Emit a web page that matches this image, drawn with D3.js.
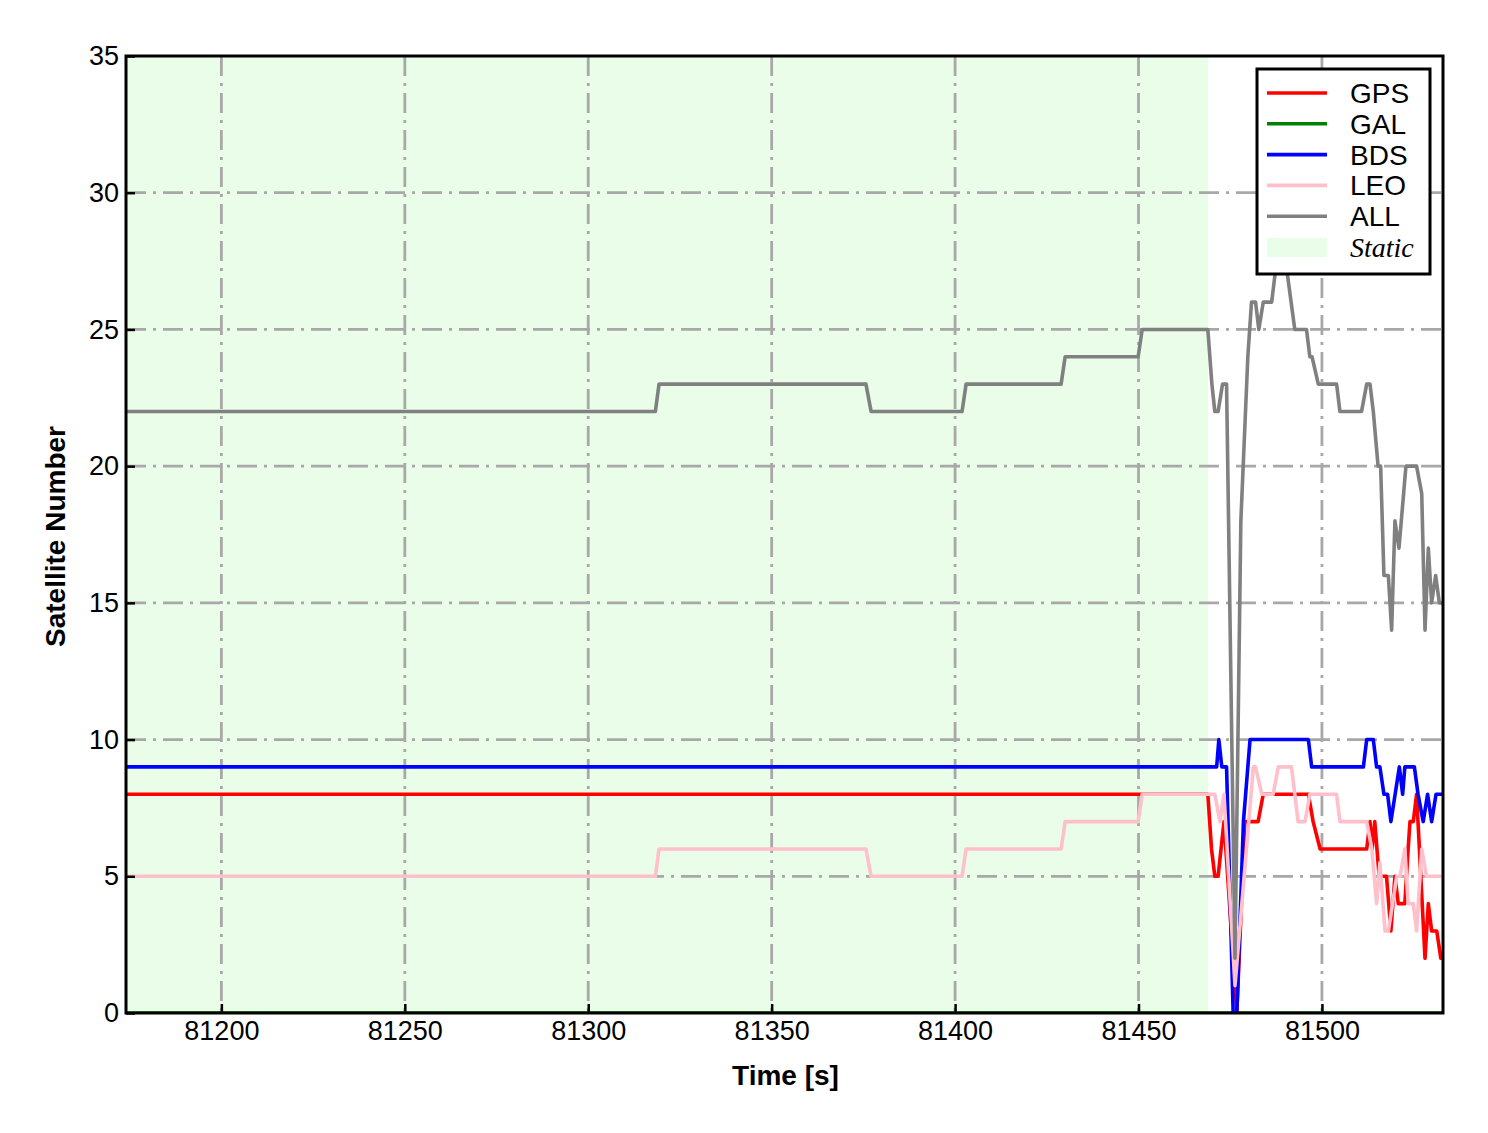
<!DOCTYPE html>
<html><head><meta charset="utf-8">
<script src="https://cdn.jsdelivr.net/npm/d3@7"></script>
<style>
html,body{margin:0;padding:0;background:#fff;}
svg text{font-family:Arial,"Liberation Sans",sans-serif;}
</style></head>
<body>
<svg id="chart" width="1488" height="1133"></svg>
<script>
// ---- data ----
const seriesNames = ["GPS","GAL","BDS","LEO","ALL"];
const seriesColors = ["#ff0000","#008000","#0000ff","#ffc0cb","#808080"];
const xTicks = [81200,81250,81300,81350,81400,81450,81500];
const yTicks = [0,5,10,15,20,25,30,35];
const xDomain = [81174, 81533];
const yDomain = [0, 35];
const staticRange = [81174, 81469];

const gpsT = [81174,81468.9,81469.9,81470.8,81471.7,81473.3,81476.8,81479.0,81482.6,81484.0,81496.3,81497.6,81499.5,81512.2,81513.1,81513.7,81514.4,81515.6,81517.6,81518.8,81519.9,81520.8,81522.6,81523.5,81524.0,81524.9,81525.8,81528.1,81529.0,81529.9,81531.3,81532.4,81533];
const gpsV = [8,8,6,5,5,7,0,7,7,8,8,7,6,6,7,6,7,5,5,3,5,4,4,6,7,7,8,2,4,3,3,2,2];

const galT = [81174,81533];
const galV = [0,0];

const bdsT = [81174,81471.3,81471.9,81472.7,81474.0,81475.8,81476.8,81478.6,81480.4,81496.3,81497.2,81511.3,81512.2,81514.0,81514.9,81515.8,81516.9,81517.9,81518.8,81521.1,81522.0,81522.6,81525.2,81526.2,81527.6,81528.8,81529.9,81531.1,81533];
const bdsV = [9,9,10,9,9,0,0,7,10,10,9,9,10,10,9,9,8,8,7,9,8,9,9,8,7,8,7,8,8];

const leoT = [81174,81318.3,81319.3,81375.7,81377.1,81401.9,81403.0,81428.9,81430.0,81449.9,81451.0,81470.8,81472.2,81473.3,81476.3,81481.3,81481.9,81483.6,81486.7,81488.1,81491.7,81493.5,81495.4,81496.7,81504.0,81504.9,81512.2,81513.6,81514.9,81515.8,81517.2,81518.1,81520.4,81521.3,81522.6,81523.5,81524.9,81525.8,81527.2,81528.5,81533];
const leoV = [5,5,6,6,5,5,6,6,7,7,8,8,7,8,1,9,9,8,8,9,9,7,7,8,8,7,7,6,4,5.5,3,3,5,5,6,4,4,3,6,5,5];

const allT = [81174,81318.3,81319.3,81375.7,81377.1,81401.9,81403.0,81428.9,81430.0,81449.9,81451.0,81468.9,81470.0,81470.8,81471.7,81472.9,81474.0,81476.3,81477.9,81479.8,81480.8,81481.9,81482.8,81484.0,81486.3,81488.1,81489.6,81492.6,81495.8,81496.7,81497.3,81499.0,81504.0,81504.9,81510.8,81512.2,81513.1,81514.0,81515.3,81516.0,81516.9,81518.1,81519.0,81519.9,81521.0,81522.9,81525.8,81527.2,81528.1,81529.0,81529.9,81531.0,81532.0,81533];
const allV = [22,22,23,23,22,22,23,23,24,24,25,25,23,22,22,23,23,2,18,24,26,26,25,26,26,28,28,25,25,24,24,23,23,22,22,23,23,22,20,20,16,16,14,18,17,20,20,19,14,17,15,16,15,15];

const seriesT = [gpsT, galT, bdsT, leoT, allT];
const seriesV = [gpsV, galV, bdsV, leoV, allV];

// ---- layout ----
const L = 126, R = 1443, T = 56, B = 1013;
const svg = d3.select("#chart");
const x = d3.scaleLinear().domain(xDomain).range([L, R]);
const y = d3.scaleLinear().domain(yDomain).range([B, T]);

svg.append("defs").append("clipPath").attr("id","clip")
  .append("rect").attr("x",L).attr("y",T).attr("width",R-L).attr("height",B-T);

// static background
svg.append("rect")
  .attr("x", x(staticRange[0])).attr("y", T)
  .attr("width", x(staticRange[1]) - x(staticRange[0])).attr("height", B - T)
  .attr("fill", "#e9fde9");

// grid
const gridDash = "20,7,3,7";
const g = svg.append("g");
g.selectAll(".gx").data(xTicks).enter().append("line")
  .attr("x1", d=>x(d)).attr("x2", d=>x(d)).attr("y1", T).attr("y2", B)
  .attr("stroke","#a8a8a8").attr("stroke-width",2.8).attr("stroke-dasharray",gridDash);
g.selectAll(".gy").data(yTicks.filter(v=>v>0 && v<35)).enter().append("line")
  .attr("y1", d=>y(d)).attr("y2", d=>y(d)).attr("x1", L).attr("x2", R)
  .attr("stroke","#a8a8a8").attr("stroke-width",2.8).attr("stroke-dasharray",gridDash);

// lines
const line = d3.line().x(d=>x(d[0])).y(d=>y(d[1]));
const lg = svg.append("g").attr("clip-path","url(#clip)");
seriesNames.forEach((name,i)=>{
  const pts = seriesT[i].map((t,j)=>[t, seriesV[i][j]]);
  lg.append("path").datum(pts).attr("d", line)
    .attr("fill","none").attr("stroke", seriesColors[i])
    .attr("stroke-width",3.6).attr("stroke-linejoin","round");
});

// axes
const xAxis = d3.axisBottom(x).tickValues(xTicks).tickSizeInner(-9).tickSizeOuter(0).tickPadding(8).tickFormat(d3.format("d"));
const yAxis = d3.axisLeft(y).tickValues(yTicks).tickSizeInner(-9).tickSizeOuter(0).tickPadding(7);
const gx = svg.append("g").attr("transform",`translate(0,${B})`).call(xAxis);
const gy = svg.append("g").attr("transform",`translate(${L},0)`).call(yAxis);
[gx,gy].forEach(a=>{
  a.select(".domain").remove();
  a.selectAll(".tick line").attr("stroke","#000").attr("stroke-width",2.5);
  a.selectAll(".tick text").attr("fill","#000").style("font-size","27px");
});

// frame
svg.append("rect").attr("x",L).attr("y",T).attr("width",R-L).attr("height",B-T)
  .attr("fill","none").attr("stroke","#000").attr("stroke-width",3);

// axis labels
svg.append("text").attr("x",(L+R)/2 + 1).attr("y",1085).attr("text-anchor","middle")
  .style("font-size","28px").style("font-weight","bold").text("Time [s]");
svg.append("text").attr("transform",`translate(65,${(T+B)/2 + 2}) rotate(-90)`)
  .attr("text-anchor","middle").style("font-size","28px").style("font-weight","bold")
  .text("Satellite Number");

// legend
const lgd = svg.append("g");
lgd.append("rect").attr("x",1257).attr("y",69).attr("width",173).attr("height",205)
  .attr("fill","#fff").attr("stroke","#000").attr("stroke-width",3);
seriesNames.forEach((name,i)=>{
  const yy = 93 + i*30.8;
  lgd.append("line").attr("x1",1267).attr("x2",1327).attr("y1",yy).attr("y2",yy)
    .attr("stroke",seriesColors[i]).attr("stroke-width",3.6);
  lgd.append("text").attr("x",1350).attr("y",yy+10).style("font-size","28px").text(name);
});
lgd.append("rect").attr("x",1267).attr("y",238).attr("width",60).attr("height",19).attr("fill","#e9fde9");
lgd.append("text").attr("x",1350).attr("y",257)
  .style("font-family","'Liberation Serif','Times New Roman',serif").style("font-style","italic")
  .style("font-size","28px").text("Static");
</script>
</body></html>
